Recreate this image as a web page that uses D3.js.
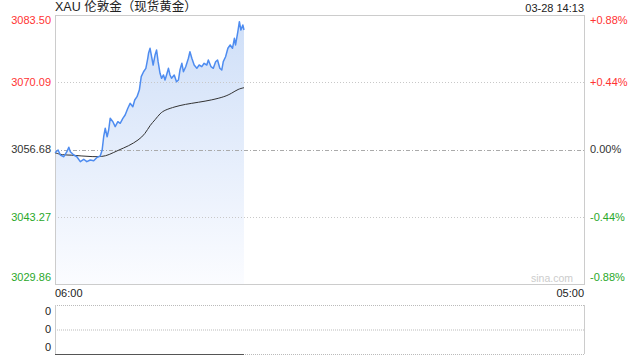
<!DOCTYPE html>
<html>
<head>
<meta charset="utf-8">
<script src="https://cdn.jsdelivr.net/npm/d3@7"></script>
<style>
  body { margin: 0; background: #fff; }
  svg { display: block; font-family: "Liberation Sans", Arial, "Noto Sans CJK SC", sans-serif; }
</style>
</head>
<body>
<div id="chart"></div>
<script>
// price data (time, price)
const priceTimes = ["06:00","06:08","06:14","06:23","06:31","06:36","06:40","06:49","06:57","07:06",
  "07:15","07:23","07:32","07:41","07:50","07:58","08:03","08:07","08:11","08:16",
  "08:20","08:24","08:31","08:37","08:44","08:50","08:57","09:03","09:10","09:16",
  "09:23","09:28","09:34","09:40","09:45","09:51","09:57","10:02","10:04","10:08",
  "10:12","10:16","10:21","10:25","10:29","10:34","10:38","10:43","10:47","10:51",
  "10:56","11:00","11:04","11:11","11:17","11:22","11:26","11:31","11:35","11:41",
  "11:48","11:52","11:57","12:03","12:10","12:16","12:23","12:29","12:36","12:40",
  "12:47","12:53","12:59","13:04","13:10","13:15","13:19","13:25","13:31","13:37",
  "13:43","13:48","13:51","13:57","14:01","14:05","14:10","14:13"];
const prices = [3056.04,3056.58,3055.58,3055.24,3056.24,3057.12,3056.24,3055.58,3055.24,3054.25,
  3054.73,3054.25,3054.59,3054.45,3055.12,3055.38,3056.58,3059.23,3060.91,3059.23,
  3060.57,3062.90,3062.22,3061.23,3062.22,3061.90,3062.90,3063.56,3064.90,3065.89,
  3065.21,3066.55,3067.21,3068.54,3071.20,3072.19,3072.87,3074.87,3075.86,3076.86,
  3075.18,3073.53,3075.52,3076.52,3074.19,3071.87,3070.88,3071.54,3070.54,3071.54,
  3072.87,3071.54,3070.88,3071.54,3070.20,3070.54,3072.53,3073.87,3072.19,3073.19,
  3074.87,3076.18,3074.87,3073.53,3072.87,3073.53,3073.19,3073.87,3073.53,3074.53,
  3073.19,3072.87,3074.19,3074.53,3072.87,3072.53,3074.19,3075.18,3076.86,3077.52,
  3076.86,3078.85,3077.52,3080.17,3082.16,3080.51,3081.51,3080.51];

// average price line
const avgTimes = ["06:00","06:18","06:44","07:10","07:37","08:03","08:20","08:46","09:12","09:38",
  "09:55","10:08","10:21","10:34","10:47","11:13","11:39","12:14","12:49","13:23",
  "13:41","13:58","14:13"];
const avgPrices = [3056.04,3055.58,3055.58,3055.38,3055.24,3055.24,3055.58,3056.58,3057.38,3058.57,
  3059.77,3061.56,3062.56,3063.90,3064.56,3065.21,3065.69,3066.09,3066.55,3067.21,
  3067.89,3068.74,3069.00];

const prevClose = 3056.68;
const priceTicks = [3083.50, 3070.09, 3056.68, 3043.27, 3029.86];
const pctTicks = ["+0.88%", "+0.44%", "0.00%", "-0.44%", "-0.88%"];
const volTicks = ["0", "0", "0"];
const title = "XAU 伦敦金（现货黄金）";
const stamp = "03-28 14:13";

const W = 640, H = 360;
const box = { left: 55, right: 584, top: 15, bottom: 284 };
const volTop = 305, volBottom = 354;

const parse = d3.timeParse("%H:%M");
const start = parse("06:00");
const end = d3.timeHour.offset(start, 23); // 05:00 next day

const x = d3.scaleTime().domain([start, end]).range([box.left, box.right]);
const y = d3.scaleLinear().domain([priceTicks[4], priceTicks[0]]).range([box.bottom, box.top]);

const red = "#f33", green = "#2aa82a", grey = "#ccc";

const priceData = priceTimes.map((t, i) => ({ t: parse(t), v: prices[i] }));
const avgData = avgTimes.map((t, i) => ({ t: parse(t), v: avgPrices[i] }));

const svg = d3.select("#chart").append("svg")
  .attr("width", W).attr("height", H);

const defs = svg.append("defs");
const grad = defs.append("linearGradient")
  .attr("id", "fill").attr("x1", 0).attr("y1", 0).attr("x2", 0).attr("y2", 1);
grad.append("stop").attr("offset", "0%").attr("stop-color", "#cfdff8");
grad.append("stop").attr("offset", "100%").attr("stop-color", "#fbfcff");

// area under price
svg.append("path")
  .datum(priceData)
  .attr("fill", "url(#fill)")
  .attr("d", d3.area().x(d => x(d.t)).y0(box.bottom).y1(d => y(d.v)));

// gridlines
[1, 3].forEach(i => {
  svg.append("line")
    .attr("x1", box.left).attr("x2", box.right)
    .attr("y1", Math.round(y(priceTicks[i])) + 0.5).attr("y2", Math.round(y(priceTicks[i])) + 0.5)
    .attr("stroke", "#c8c8c8").attr("stroke-dasharray", "1,2");
});
svg.append("line")
  .attr("x1", box.left).attr("x2", box.right)
  .attr("y1", Math.round(y(prevClose)) + 0.5).attr("y2", Math.round(y(prevClose)) + 0.5)
  .attr("stroke", "#aaa").attr("stroke-dasharray", "4,2,1,2");

// frame
svg.append("rect")
  .attr("x", box.left + 0.5).attr("y", box.top + 0.5)
  .attr("width", box.right - box.left).attr("height", box.bottom - box.top)
  .attr("fill", "none").attr("stroke", grey);

// average line
svg.append("path")
  .datum(avgData)
  .attr("fill", "none").attr("stroke", "#333").attr("stroke-width", 1)
  .attr("d", d3.line().x(d => x(d.t)).y(d => y(d.v)).curve(d3.curveBasis));

// price line
svg.append("path")
  .datum(priceData)
  .attr("fill", "none").attr("stroke", "#4e8cf0").attr("stroke-width", 1.5)
  .attr("stroke-linejoin", "round")
  .attr("d", d3.line().x(d => x(d.t)).y(d => y(d.v)));

// left price labels and right percent labels
const colorOf = i => i < 2 ? red : i === 2 ? "#333" : green;
priceTicks.forEach((v, i) => {
  let yy = y(v);
  if (i === 0) yy += 5;
  if (i === 4) yy -= 7;
  svg.append("text")
    .attr("x", 51).attr("y", yy).attr("dy", "0.35em")
    .attr("text-anchor", "end").attr("font-size", 11)
    .attr("fill", colorOf(i)).text(v.toFixed(2));
  svg.append("text")
    .attr("x", 590).attr("y", yy).attr("dy", "0.35em")
    .attr("font-size", 11).attr("fill", colorOf(i)).text(pctTicks[i]);
});

// title and time stamp
svg.append("text").attr("x", 55).attr("y", 11)
  .attr("font-size", 12.5).attr("fill", "#222").text(title);
svg.append("text").attr("x", 584).attr("y", 12)
  .attr("text-anchor", "end").attr("font-size", 11).attr("fill", "#222").text(stamp);

// watermark
svg.append("text").attr("x", 573).attr("y", 282)
  .attr("text-anchor", "end").attr("font-size", 10.5).attr("fill", "#ccc").text("sina.com");

// time axis labels
const fmt = d3.timeFormat("%H:%M");
svg.append("text").attr("x", x(start)).attr("y", 293).attr("dy", "0.35em")
  .attr("font-size", 11).attr("fill", "#222").text(fmt(start));
svg.append("text").attr("x", x(end)).attr("y", 293).attr("dy", "0.35em")
  .attr("text-anchor", "end").attr("font-size", 11).attr("fill", "#222").text(fmt(end));

// volume panel
const vy = d3.scaleLinear().domain([0, 2]).range([volBottom, volTop]);
[2, 1, 0].forEach(k => {
  svg.append("line")
    .attr("x1", box.left).attr("x2", box.right)
    .attr("y1", vy(k) + 0.5).attr("y2", vy(k) + 0.5)
    .attr("stroke", "#bbb").attr("stroke-dasharray", "1,1");
});
svg.append("line")
  .attr("x1", box.left).attr("x2", x(priceData[priceData.length - 1].t))
  .attr("y1", vy(0) + 0.5).attr("y2", vy(0) + 0.5)
  .attr("stroke", "#555");
[box.left, box.right].forEach(xx => {
  svg.append("line")
    .attr("x1", xx + 0.5).attr("x2", xx + 0.5)
    .attr("y1", volTop).attr("y2", volBottom)
    .attr("stroke", grey);
});
volTicks.forEach((t, i) => {
  const yy = [volTop + 6, (volTop + volBottom) / 2, volBottom - 7][i];
  svg.append("text")
    .attr("x", 51).attr("y", yy).attr("dy", "0.35em")
    .attr("text-anchor", "end").attr("font-size", 11).attr("fill", "#222").text(t);
});
</script>
</body>
</html>
